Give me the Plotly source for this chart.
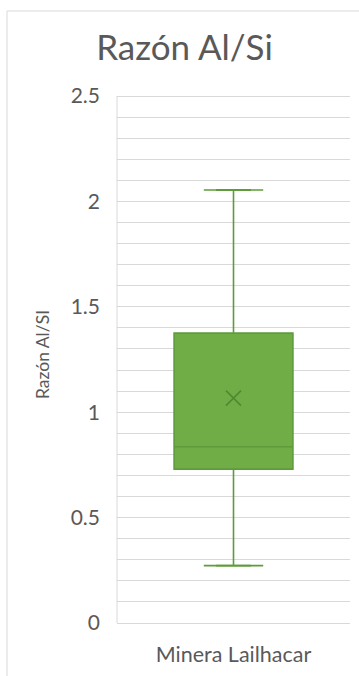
import plotly.graph_objects as go

categories = ["Minera Lailhacar"]
q1 = [0.73]
median = [0.836]
q3 = [1.375]
lower_whisker = [0.272]
upper_whisker = [2.054]
mean = [1.067]

y_ticks = [0, 0.5, 1, 1.5, 2, 2.5]
y_tick_labels = ["0", "0.5", "1", "1.5", "2", "2.5"]

FONT = "Lato"
GRID = "#D9D9D9"
TXT = "#595959"
FILL = "#70AD47"
LINE = "#5E9C3B"

W, H = 359, 676
T, B, L, R = 86, 53, 117, 9
PH = H - T - B
PW = W - L - R
Y_TOP = PH / 210.8  # keeps 2.5 gridline inside the plot area
xpos = list(range(len(categories)))
cap_half = 0.075

fig = go.Figure()
fig.add_trace(go.Box(
    x=xpos, q1=q1, median=median, q3=q3,
    lowerfence=lower_whisker, upperfence=upper_whisker,
    fillcolor=FILL, line=dict(color=LINE, width=1.6),
    width=0.51, boxpoints=False, showlegend=False, hoverinfo="skip",
))
# whisker caps
for i, xc in enumerate(xpos):
    for v in (lower_whisker[i], upper_whisker[i]):
        fig.add_trace(go.Scatter(
            x=[xc - cap_half, xc + cap_half], y=[v, v], mode="lines",
            line=dict(color=LINE, width=1.8), showlegend=False, hoverinfo="skip"))
fig.add_trace(go.Scatter(
    x=xpos, y=mean, mode="markers",
    marker=dict(symbol="x-thin", size=15, line=dict(color="#4F8A30", width=1.6)),
    showlegend=False, hoverinfo="skip"))

fig.update_layout(
    width=W, height=H,
    margin=dict(l=L, r=R, t=T, b=B),
    paper_bgcolor="white", plot_bgcolor="white",
    font=dict(family=FONT, color=TXT),
    title=dict(text="Razón Al/Si", x=184.5 / W, xref="container", xanchor="center",
               y=1 - 48 / H, yref="container", yanchor="middle",
               font=dict(size=35, color=TXT, family=FONT)),
    xaxis=dict(range=[-0.5, 0.5], tickvals=xpos, ticktext=categories,
               showgrid=False, zeroline=False, showline=True, linecolor=GRID, linewidth=1,
               tickfont=dict(size=21.5, color=TXT), ticks="", ticklabelstandoff=12),
    yaxis=dict(range=[0, Y_TOP], tickvals=y_ticks, ticktext=y_tick_labels,
               showgrid=True, gridcolor=GRID, gridwidth=1,
               minor=dict(dtick=0.1, showgrid=True, gridcolor=GRID, gridwidth=1, ticks=""),
               zeroline=False, showline=False,
               tickfont=dict(size=21, color=TXT), ticks="", ticklabelstandoff=16,
               title=dict(text="Razón Al/SI", font=dict(size=17.5, color=TXT), standoff=16)),
    shapes=[
        # left axis line from 0 to 2.5 only
        dict(type="line", xref="paper", yref="y", x0=0, x1=0,
             y0=y_ticks[0], y1=y_ticks[-1], line=dict(color=GRID, width=1), layer="above"),
        # outer chart border
        dict(type="line", xref="paper", yref="paper", x0=(7 - L) / PW, x1=2,
             y0=(H - B - 11) / PH, y1=(H - B - 11) / PH, line=dict(color=GRID, width=1)),
        dict(type="line", xref="paper", yref="paper", x0=(7 - L) / PW, x1=(7 - L) / PW,
             y0=(H - B - 11) / PH, y1=-1, line=dict(color=GRID, width=1)),
    ],
)
fig.write_html("out.html")
